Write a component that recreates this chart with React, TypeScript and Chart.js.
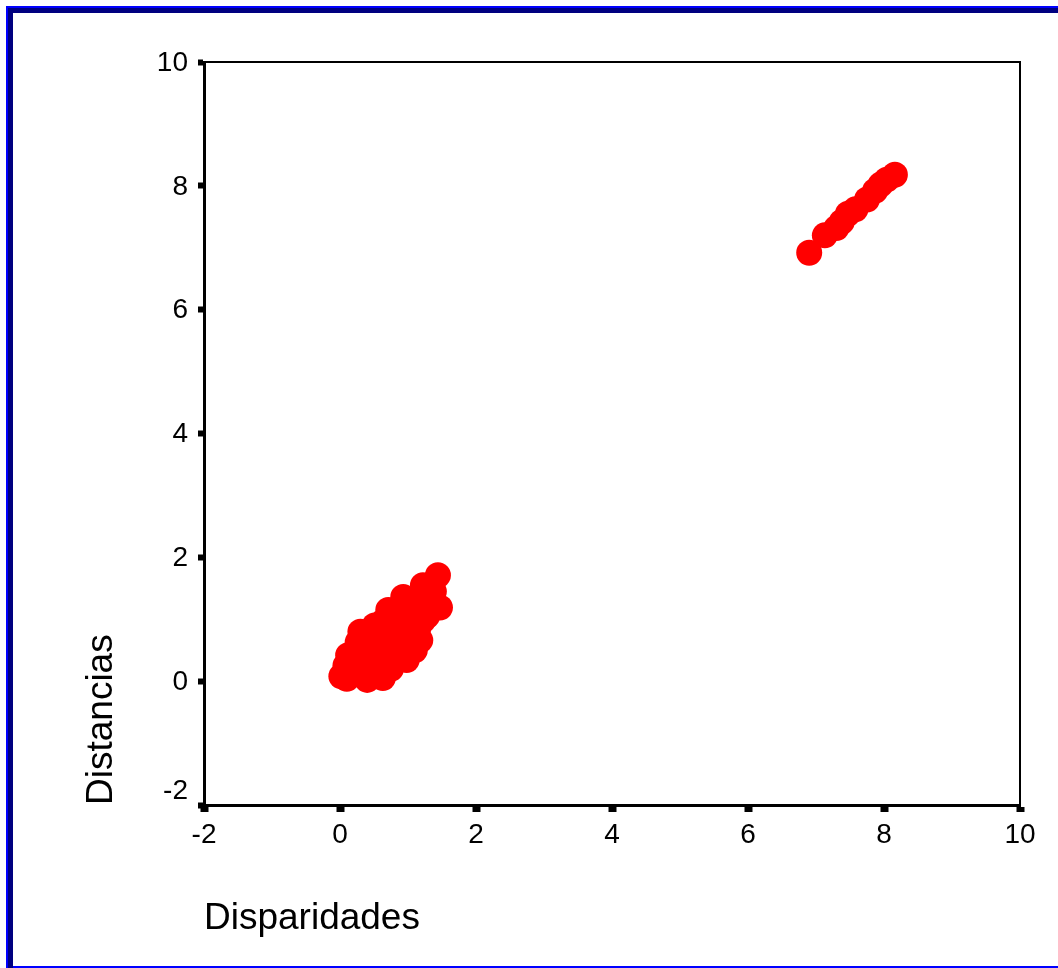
import React, { useEffect, useRef } from "react";
import { Chart, registerables } from "chart.js";

Chart.register(...registerables);

const xTitle = "Disparidades";
const yTitle = "Distancias";
const axisMin = -2;
const axisMax = 10;
const axisStep = 2;
const yTickLabels = ["-2", "0", "2", "4", "6", "8", "10"];

// lower cluster (disparidad, distancia)
const lowX = [1.44, 1.22, 1.47, 0.93, 0.71, 0.51, 0.26, 0.12, 0.02, 0.1, 0.4, 0.63, 0.98, 1.18, 1.22, 1.32,
  0.3, 0.5, 0.7, 0.9, 1.1, 0.4, 0.6, 0.8, 1.0, 1.2, 0.2, 0.45, 0.65, 0.85, 1.05, 0.55, 0.75, 0.95, 1.15, 1.35, 0.35, 0.2, 0.8, 0.6,
  0.15, 0.25, 0.35, 0.55, 0.75, 0.85, 1.05, 1.25, 1.38, 0.48, 0.68, 0.88, 1.08, 1.28, 0.3, 0.5, 0.08, 0.9, 1.1, 0.62];
const lowY = [1.71, 1.55, 1.19, 1.36, 1.15, 0.9, 0.63, 0.42, 0.08, 0.04, 0.02, 0.05, 0.34, 0.66, 0.98, 1.31,
  0.3, 0.4, 0.6, 0.8, 1.1, 0.5, 0.7, 0.9, 1.0, 1.3, 0.2, 0.25, 0.35, 0.5, 0.7, 0.15, 0.2, 0.55, 0.85, 1.5, 0.1, 0.15, 0.65, 0.55,
  0.3, 0.45, 0.55, 0.75, 0.95, 1.1, 1.2, 1.2, 1.45, 0.6, 0.8, 1.0, 0.9, 1.05, 0.8, 0.3, 0.25, 0.45, 0.5, 0.95];
// upper cluster
const highX = [6.9, 7.13, 7.3, 7.38, 7.47, 7.58, 7.75, 7.87, 7.95, 8.04, 8.16];
const highY = [6.92, 7.2, 7.32, 7.42, 7.55, 7.62, 7.78, 7.92, 8.02, 8.1, 8.18];

const framePlugin = {
  id: "framePlugin",
  beforeDraw(chart: any) {
    const ctx = chart.ctx;
    const W = chart.width;
    const H = chart.height;
    ctx.save();
    ctx.fillStyle = "#ffffff";
    ctx.fillRect(0, 0, W, H);
    ctx.fillStyle = "#0000ff";
    ctx.fillRect(6, 6, W - 6, 2);
    ctx.fillRect(6, 6, 2, H - 6);
    ctx.fillRect(12, H - 2, W - 12, 2);
    ctx.fillStyle = "#000080";
    ctx.fillRect(8, 8, W - 8, 5);
    ctx.fillRect(8, 8, 5, H - 8);
    ctx.restore();
  },
  afterDraw(chart: any) {
    const ctx = chart.ctx;
    const { left, right, top, bottom } = chart.chartArea;
    ctx.save();
    ctx.fillStyle = "#000";
    ctx.fillRect(left, top - 1, right - left + 1, 2);
    ctx.fillRect(right - 1, top - 1, 2, bottom - top + 1);
    const ys = chart.scales.y;
    ctx.font = "28px 'Liberation Sans', Arial, sans-serif";
    ctx.textAlign = "right";
    ctx.textBaseline = "middle";
    yTickLabels.forEach((lab) => {
      const v = Number(lab);
      let py = ys.getPixelForValue(v);
      if (v === axisMin) py -= 15;
      ctx.fillText(lab, left - 16, py + 1);
    });
    ctx.restore();
  },
};

export default function App() {
  const ref = useRef<HTMLCanvasElement | null>(null);
  useEffect(() => {
    document.body.style.margin = "0";
    if (!ref.current) return;
    const lowData = lowX.map((x, i) => ({ x, y: lowY[i] }));
    const highData = highX.map((x, i) => ({ x, y: highY[i] }));
    const font = { family: "'Liberation Sans', Arial, sans-serif" };
    const chart = new Chart(ref.current, {
      type: "scatter",
      data: {
        datasets: [
          { data: lowData, backgroundColor: "#ff0000", borderWidth: 0, pointRadius: 13, pointHoverRadius: 13 },
          { data: highData, backgroundColor: "#ff0000", borderWidth: 0, pointRadius: 13, pointHoverRadius: 13 },
        ],
      },
      options: {
        responsive: false,
        animation: false,
        events: [],
        layout: { padding: { left: 0, top: 62, right: 38, bottom: 0 } },
        plugins: { legend: { display: false }, tooltip: { enabled: false } },
        scales: {
          x: {
            type: "linear",
            min: axisMin,
            max: axisMax,
            afterFit: (s: any) => { s.height = 163; },
            ticks: { stepSize: axisStep, color: "#000", padding: 6, font: { ...font, size: 28 } },
            grid: { display: true, drawOnChartArea: false, drawTicks: true, tickLength: 7, tickWidth: 8, tickColor: "#000" },
            border: { display: true, color: "#000", width: 3 },
            title: { display: true, text: xTitle, align: "start", color: "#000", padding: { top: 0, bottom: 27 }, font: { ...font, size: 37 } },
          },
          y: {
            type: "linear",
            min: axisMin,
            max: axisMax,
            afterFit: (s: any) => { s.width = 204; },
            ticks: { stepSize: axisStep, display: false },
            grid: { display: true, drawOnChartArea: false, drawTicks: true, tickLength: 6, tickWidth: 6, tickColor: "#000" },
            border: { display: true, color: "#000", width: 3 },
            title: { display: true, text: yTitle, align: "start", color: "#000", padding: { top: 80, bottom: 0 }, font: { ...font, size: 37 } },
          },
        },
      },
      plugins: [framePlugin],
    });
    return () => chart.destroy();
  }, []);
  return <canvas ref={ref} width={1058} height={968} style={{ display: "block" }} />;
}
